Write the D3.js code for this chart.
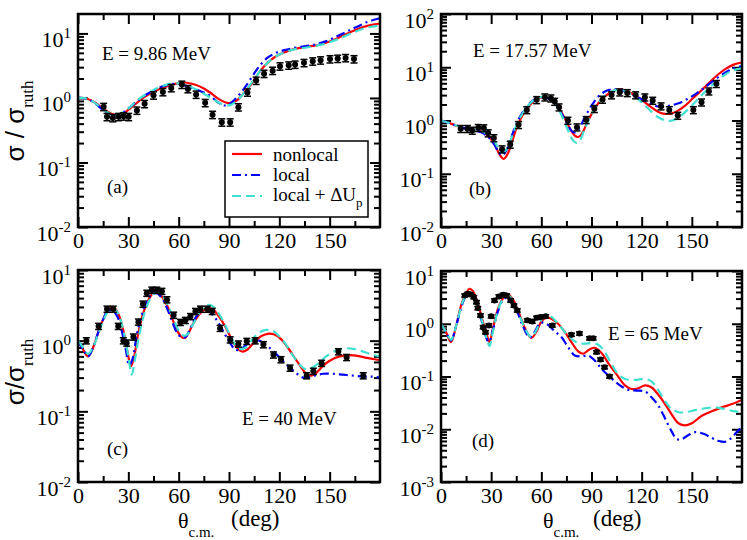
<!DOCTYPE html>
<html>
<head>
<meta charset="utf-8">
<script src="https://cdn.jsdelivr.net/npm/d3@7"></script>
<style>
  body { margin: 0; background: #fff; }
</style>
</head>
<body>
<div id="chart"></div>
<script>
var xTicks = [0, 30, 60, 90, 120, 150];
var xMinor = [15, 45, 75, 105, 135, 165];
var energies = ["E = 9.86 MeV", "E = 17.57 MeV", "E = 40 MeV", "E = 65 MeV"];
var panelTags = ["(a)", "(b)", "(c)", "(d)"];
var legendNames = ["nonlocal", "local", "local + \u0394U"];

// (a) E = 9.86 MeV   [theta, sigma/sigma_ruth]
var aNonlocal = [[0,1.0],[5,0.98],[10,0.85],[15,0.68],[20,0.57],[24,0.55],[28,0.6],[32,0.72],[36,0.88],[40,1.05],[45,1.25],[50,1.42],[55,1.58],[60,1.7],[65,1.72],[70,1.6],[75,1.4],[80,1.15],[84,0.96],[88,0.85],[91,0.84],[95,0.93],[99,1.2],[103,1.6],[107,2.3],[111,3.1],[115,3.9],[120,4.7],[125,5.3],[130,5.8],[135,6.1],[140,6.4],[145,6.8],[150,7.5],[155,8.5],[160,9.8],[165,11.2],[170,12.6],[175,13.6],[180,14.2]];
var aLocal = [[0,1.0],[5,0.98],[10,0.83],[15,0.65],[20,0.55],[23,0.54],[27,0.6],[31,0.72],[35,0.88],[40,1.1],[45,1.3],[50,1.5],[55,1.62],[60,1.65],[64,1.55],[68,1.42],[72,1.3],[76,1.18],[80,1.02],[83,0.87],[86,0.78],[89,0.77],[93,0.92],[97,1.2],[101,1.65],[105,2.4],[109,3.3],[113,4.2],[118,5.0],[123,5.5],[128,5.9],[133,6.2],[138,6.5],[143,6.9],[148,7.6],[153,8.7],[158,10.0],[163,11.6],[168,13.3],[173,15.2],[177,16.4],[180,17.2]];
var aLocalDU = [[0,1.0],[5,0.98],[10,0.84],[15,0.66],[20,0.56],[23,0.55],[27,0.6],[31,0.72],[35,0.9],[40,1.12],[45,1.33],[50,1.52],[55,1.65],[60,1.68],[64,1.6],[68,1.45],[72,1.28],[76,1.12],[80,0.98],[84,0.84],[88,0.77],[91,0.78],[95,0.92],[99,1.2],[103,1.65],[107,2.3],[111,3.1],[115,3.9],[120,4.7],[125,5.3],[130,5.75],[135,6.0],[140,6.3],[145,6.7],[150,7.3],[155,8.2],[160,9.3],[165,10.6],[170,11.8],[175,12.7],[180,13.2]];
var aExp = [[15.3,0.73,0.13],[17.3,0.51,0.13],[20.8,0.49,0.13],[24.2,0.51,0.13],[27.2,0.52,0.13],[30.2,0.51,0.13],[35.1,0.64,0.13],[39.7,0.81,0.13],[45,1.1,0.13],[50.6,1.24,0.13],[55.6,1.43,0.13],[61.9,1.61,0.13],[65.5,1.38,0.13],[70.4,1.13,0.13],[75.8,0.84,0.13],[80.2,0.55,0.13],[85.7,0.42,0.13],[90.7,0.42,0.13],[95.6,0.72,0.13],[101,1.22,0.13],[106.2,1.86,0.13],[110.9,2.38,0.13],[116,2.65,0.13],[120.4,3.1,0.13],[125.6,3.2,0.13],[129.4,3.3,0.13],[134.7,3.5,0.13],[139.9,3.7,0.13],[144.6,3.84,0.13],[150.2,4.0,0.13],[154.8,4.07,0.13],[159.5,4.17,0.13],[164.5,4.0,0.13]];

// (b) E = 17.57 MeV
var bNonlocal = [[0,1.0],[5,0.9],[10,0.78],[15,0.7],[20,0.66],[24,0.62],[28,0.52],[32,0.36],[35,0.23],[37.5,0.19],[40,0.24],[43,0.45],[46,0.85],[50,1.45],[54,2.1],[58,2.6],[62,2.75],[66,2.5],[70,1.8],[74,1.1],[77,0.72],[80,0.52],[82,0.49],[84,0.55],[87,0.85],[91,1.5],[95,2.3],[99,3.0],[103,3.6],[107,3.85],[111,3.6],[115,3.1],[120,2.45],[125,1.85],[130,1.45],[134,1.33],[138,1.36],[142,1.55],[146,1.9],[150,2.5],[155,3.5],[160,5.0],[165,7.0],[170,9.2],[175,11.2],[180,12.3]];
var bLocal = [[0,1.0],[5,0.9],[10,0.78],[15,0.7],[20,0.65],[24,0.6],[28,0.5],[32,0.35],[34.5,0.25],[36.5,0.22],[39,0.27],[42,0.48],[45,0.85],[49,1.45],[53,2.1],[57,2.6],[61,2.75],[65,2.5],[69,1.9],[73,1.2],[76,0.8],[78.5,0.62],[80.5,0.6],[83,0.75],[86,1.15],[90,1.9],[94,2.8],[98,3.5],[102,3.85],[106,3.8],[110,3.5],[115,3.0],[120,2.5],[125,2.1],[129,1.85],[133,1.8],[137,1.9],[142,2.1],[147,2.5],[152,3.1],[157,4.0],[162,5.3],[167,6.9],[172,8.6],[176,9.8],[180,10.5]];
var bLocalDU = [[0,1.0],[5,0.9],[10,0.79],[15,0.71],[20,0.67],[24,0.63],[28,0.55],[32,0.4],[35,0.28],[37,0.25],[39.5,0.3],[43,0.55],[46,0.95],[50,1.55],[54,2.2],[58,2.65],[62,2.8],[66,2.5],[70,1.7],[73.5,1.0],[76.5,0.6],[79,0.42],[81,0.38],[83,0.42],[86,0.7],[90,1.3],[94,2.1],[98,2.9],[102,3.5],[106,3.8],[110,3.6],[114,3.1],[118,2.5],[122,1.9],[126,1.45],[130,1.15],[134,1.0],[137,0.98],[141,1.08],[145,1.35],[150,1.9],[155,2.8],[160,4.0],[165,5.5],[170,7.3],[175,8.8],[180,9.5]];
var bExp = [[11.8,0.7,0.15],[15.8,0.7,0.15],[18.7,0.65,0.15],[22.3,0.73,0.15],[25.6,0.72,0.15],[28.2,0.58,0.15],[31.6,0.47,0.15],[36.5,0.29,0.15],[41.4,0.355,0.15],[46.4,0.83,0.15],[51.3,1.58,0.15],[57.2,2.44,0.15],[62.1,2.74,0.15],[65.7,2.62,0.15],[68,2.27,0.15],[70.6,1.78,0.15],[75.9,1.0,0.15],[81.3,0.75,0.15],[86.8,1.03,0.15],[91.7,1.66,0.15],[96.6,2.48,0.15],[102,3.0,0.15],[106.9,3.4,0.15],[111.4,3.3,0.15],[116.4,3.0,0.15],[121.9,2.74,0.15],[126.6,2.37,0.15],[131.6,1.86,0.15],[136.5,1.58,0.15],[141.6,1.24,0.15],[150.9,1.58,0.15],[155.8,2.2,0.15],[160.2,3.55,0.15],[164.7,4.9,0.15]];

// (c) E = 40 MeV
var cNonlocal = [[0,1.0],[3,0.75],[6,0.6],[9,0.8],[12,1.3],[15,2.0],[18,2.7],[21,3.0],[24,2.4],[27,1.4],[29.5,0.7],[31.5,0.43],[33.5,0.6],[36,1.3],[39,2.5],[42,3.8],[45,4.8],[47,4.9],[50,4.2],[53,3.2],[56,2.1],[59,1.4],[62,1.12],[64,1.1],[66,1.3],[69,1.8],[72,2.3],[75,2.7],[78,2.9],[81,2.7],[84,2.2],[88,1.55],[92,1.0],[95,0.78],[98,0.7],[101,0.75],[105,0.95],[109,1.15],[113,1.25],[117,1.22],[121,1.05],[125,0.8],[129,0.58],[133,0.42],[136,0.34],[139,0.32],[142,0.35],[146,0.44],[150,0.52],[155,0.59],[160,0.62],[164,0.62],[168,0.6],[172,0.57],[176,0.55],[180,0.53]];
var cLocal = [[0,1.0],[3,0.75],[6,0.6],[9,0.8],[12,1.3],[15,2.0],[17.5,2.6],[20,2.7],[23,2.3],[26,1.4],[28.5,0.75],[30.5,0.45],[32.5,0.55],[35,1.2],[38,2.3],[41,3.6],[44,4.5],[47,4.7],[50,4.0],[53,2.9],[56,1.9],[59,1.3],[62,1.1],[64,1.12],[67,1.5],[70,2.1],[73,2.6],[76,2.75],[79,2.5],[83,1.9],[87,1.3],[91,0.9],[94,0.74],[97,0.76],[101,0.9],[104,1.0],[107,1.02],[110,0.95],[114,0.8],[118,0.65],[122,0.52],[126,0.42],[130,0.35],[134,0.3],[137,0.3],[141,0.32],[146,0.34],[152,0.34],[158,0.33],[164,0.32],[170,0.31],[175,0.31],[180,0.3]];
var cLocalDU = [[0,1.0],[3,0.8],[6,0.65],[9,0.8],[12,1.25],[15,1.9],[18,2.6],[21,2.9],[24,2.4],[27,1.4],[30,0.6],[32,0.33],[34,0.55],[36.5,1.2],[39.5,2.4],[42.5,3.7],[45.5,4.7],[48,4.9],[51,4.1],[54,3.0],[57,2.0],[60,1.4],[63,1.18],[65,1.22],[68,1.6],[71,2.2],[74,2.8],[77,3.2],[80,3.1],[83,2.6],[87,1.8],[91,1.15],[94,0.85],[97,0.76],[100,0.8],[104,1.05],[108,1.3],[112,1.42],[116,1.38],[120,1.15],[124,0.88],[128,0.62],[132,0.46],[135,0.4],[138,0.4],[142,0.45],[146,0.55],[150,0.65],[155,0.74],[160,0.78],[165,0.76],[170,0.7],[175,0.64],[180,0.6]];
var cExp = [[5,1.0,0.1],[12.3,1.6,0.1],[17.3,2.8,0.1],[21,2.8,0.1],[24,1.6,0.1],[27,1.0,0.1],[29,0.93,0.1],[33,1.13,0.1],[36,1.84,0.1],[38.7,3.3,0.1],[41,4.7,0.1],[44,5.2,0.1],[47,5.2,0.1],[50,5.0,0.1],[53,3.8,0.1],[57,2.3,0.1],[61,1.82,0.1],[64,1.94,0.1],[67,2.2,0.1],[70,2.6,0.1],[73,2.8,0.1],[77,2.8,0.1],[80,2.6,0.1],[84.7,1.5,0.1],[90.7,1.03,0.1],[95.6,0.9,0.1],[100.6,0.98,0.1],[105.6,1.0,0.1],[110.5,0.88,0.1],[116.5,0.63,0.1],[121,0.54,0.1],[126.4,0.41,0.1],[136.3,0.32,0.1],[140.3,0.37,0.1],[145.2,0.48,0.1],[155.2,0.7,0.1],[160.1,0.58,0.1],[170,0.32,0.1]];

// (d) E = 65 MeV
var dNonlocal = [[0,1.0],[3,0.7],[6,0.45],[9,0.9],[12,2.2],[15,3.8],[17,4.6],[19,4.2],[22,2.4],[25,1.1],[27.5,0.6],[29,0.45],[31,0.8],[34,1.9],[37,3.0],[40,3.6],[43,2.9],[46,1.8],[50,0.85],[54,0.54],[57,0.7],[60,1.1],[63,1.3],[66,1.25],[70,1.0],[74,0.7],[78,0.45],[82,0.3],[85,0.27],[89,0.33],[92,0.35],[96,0.28],[100,0.18],[105,0.11],[110,0.068],[114,0.058],[118,0.06],[122,0.068],[126,0.062],[130,0.045],[134,0.03],[138,0.019],[142,0.013],[146,0.0118],[150,0.013],[156,0.018],[162,0.022],[168,0.026],[174,0.03],[180,0.036]];
var dLocal = [[0,1.0],[3,0.7],[6,0.48],[9,0.9],[12,2.0],[15,3.4],[17,3.7],[19,3.3],[22,2.0],[25,0.95],[27.5,0.5],[28.7,0.45],[31,0.75],[34,1.7],[37,2.8],[40,3.2],[42,2.9],[45,1.9],[49,0.9],[53,0.55],[56,0.7],[59,1.02],[61,1.05],[64,0.95],[68,0.72],[72,0.56],[76,0.36],[80,0.25],[84,0.24],[88,0.25],[92,0.2],[96,0.14],[102,0.092],[107,0.068],[112,0.056],[117,0.054],[122,0.052],[126,0.04],[130,0.028],[134,0.016],[138,0.009],[141,0.0065],[144,0.0065],[148,0.0078],[152,0.0088],[157,0.0082],[162,0.0068],[166,0.006],[170,0.0058],[174,0.007],[177,0.009],[180,0.011]];
var dLocalDU = [[0,1.0],[3,0.7],[6,0.5],[9,0.9],[12,2.1],[15,3.6],[17,4.0],[19,3.6],[22,2.2],[25,1.0],[27.5,0.5],[29,0.38],[31,0.7],[34,1.8],[37,2.9],[40,3.4],[43,2.8],[46,1.7],[50,0.85],[54,0.55],[57,0.75],[60,1.2],[63,1.48],[66,1.35],[70,1.0],[74,0.7],[78,0.52],[82,0.43],[86,0.42],[90,0.43],[94,0.4],[98,0.29],[102,0.17],[106,0.11],[110,0.09],[116,0.086],[122,0.09],[126,0.08],[130,0.055],[134,0.034],[138,0.024],[142,0.021],[146,0.021],[152,0.023],[158,0.025],[164,0.026],[170,0.024],[175,0.022],[180,0.021]];
var dExp = [[14.2,3.44,0.07],[16,3.7,0.07],[17.6,3.6,0.07],[19.6,3.2,0.07],[21.2,2.57,0.07],[22,1.98,0.07],[23.6,1.44,0.07],[25.2,0.86,0.07],[26.6,0.69,0.07],[28.6,0.93,0.07],[30,1.38,0.07],[32,2.77,0.07],[34.6,3.3,0.07],[37.2,3.54,0.07],[39.2,3.44,0.07],[41.6,2.77,0.07],[43.6,2.22,0.07],[45.6,1.79,0.07],[51.6,1.16,0.07],[54.6,1.1,0.07],[57.2,1.3,0.07],[59.6,1.34,0.07],[62.6,1.38,0.07],[66.6,0.93,0.07],[78,0.62,0.07],[82.8,0.655,0.07],[88.8,0.53,0.07],[91,0.53,0.07],[93,0.29,0.07],[95.4,0.21,0.07],[97.8,0.15,0.07],[100.8,0.1,0.07]];

var serif = "'Liberation Serif', 'Times New Roman', serif";
var sans = "'Liberation Sans', Arial, sans-serif";
var colors = ["#ff0000", "#0000ff", "#40e0d0"];
var dashes = [null, "9,4,2,4", "9,5"];

var layout = [
  {left: 78,  right: 380, top: 14,  bottom: 227, ymin: 0.01,  ymax: 20,  eX: 102, eY: 60,  tX: 107, tY: 193},
  {left: 441, right: 742, top: 14,  bottom: 227, ymin: 0.01,  ymax: 100, eX: 473, eY: 57,  tX: 469, tY: 195},
  {left: 78,  right: 380, top: 270, bottom: 482, ymin: 0.01,  ymax: 10,  eX: 242, eY: 425, tX: 107, tY: 455},
  {left: 441, right: 742, top: 271, bottom: 482, ymin: 0.001, ymax: 10,  eX: 608, eY: 340, tX: 472, tY: 447}
];
var curves = [
  [aNonlocal, aLocal, aLocalDU],
  [bNonlocal, bLocal, bLocalDU],
  [cNonlocal, cLocal, cLocalDU],
  [dNonlocal, dLocal, dLocalDU]
];
var exps = [aExp, bExp, cExp, dExp];

var svg = d3.select("#chart").append("svg")
    .attr("width", 747)
    .attr("height", 540);

function decades(lo, hi) {
  var t = [];
  for (var k = Math.round(Math.log10(lo)); Math.pow(10, k) <= hi * 1.0001; k++) t.push(+Math.pow(10, k).toPrecision(3));
  return t;
}

layout.forEach(function(L, i) {
  var x = d3.scaleLinear().domain([0, 180]).range([L.left, L.right]);
  var y = d3.scaleLog().domain([L.ymin, L.ymax]).range([L.bottom, L.top]);
  var g = svg.append("g");

  var major = decades(L.ymin, L.ymax);
  var minor = [];
  major.forEach(function(m) {
    for (var k = 2; k <= 9; k++) if (m * k < L.ymax * 0.999) minor.push(m * k);
  });

  function tickStyle(sel, w) {
    sel.select(".domain").remove();
    sel.selectAll("line").attr("stroke", "#000").attr("stroke-width", w);
  }

  // x axes (bottom labelled, top mirrored)
  var gx = g.append("g").attr("transform", "translate(0," + L.bottom + ")")
      .call(d3.axisBottom(x).tickValues(xTicks).tickSizeInner(-10).tickSizeOuter(0).tickPadding(5))
      .call(tickStyle, 2);
  gx.selectAll("text").attr("font-family", serif).attr("font-size", 22).attr("fill", "#000");
  g.append("g").attr("transform", "translate(0," + L.bottom + ")")
      .call(d3.axisBottom(x).tickValues(xMinor).tickSizeInner(-6).tickSizeOuter(0).tickFormat(""))
      .call(tickStyle, 2);
  g.append("g").attr("transform", "translate(0," + L.top + ")")
      .call(d3.axisTop(x).tickValues(xTicks).tickSizeInner(-10).tickSizeOuter(0).tickFormat(""))
      .call(tickStyle, 2);
  g.append("g").attr("transform", "translate(0," + L.top + ")")
      .call(d3.axisTop(x).tickValues(xMinor).tickSizeInner(-6).tickSizeOuter(0).tickFormat(""))
      .call(tickStyle, 2);

  // y axes
  var gy = g.append("g").attr("transform", "translate(" + L.left + ",0)")
      .call(d3.axisLeft(y).tickValues(major).tickSizeInner(-10).tickSizeOuter(0).tickPadding(7))
      .call(tickStyle, 2);
  gy.selectAll("text").each(function(d) {
    var t = d3.select(this).text(null)
        .attr("font-family", serif).attr("font-size", 22).attr("fill", "#000")
        .attr("dy", 13);
    t.append("tspan").text("10");
    t.append("tspan").attr("font-size", 15).attr("dy", -9).text(Math.round(Math.log10(d)));
  });
  g.append("g").attr("transform", "translate(" + L.left + ",0)")
      .call(d3.axisLeft(y).tickValues(minor).tickSizeInner(-6).tickSizeOuter(0).tickFormat(""))
      .call(tickStyle, 2);
  g.append("g").attr("transform", "translate(" + L.right + ",0)")
      .call(d3.axisRight(y).tickValues(major).tickSizeInner(-10).tickSizeOuter(0).tickFormat(""))
      .call(tickStyle, 2);
  g.append("g").attr("transform", "translate(" + L.right + ",0)")
      .call(d3.axisRight(y).tickValues(minor).tickSizeInner(-6).tickSizeOuter(0).tickFormat(""))
      .call(tickStyle, 2);

  // curves
  var clipId = "clip" + i;
  svg.append("clipPath").attr("id", clipId).append("rect")
      .attr("x", L.left).attr("y", L.top)
      .attr("width", L.right - L.left).attr("height", L.bottom - L.top);

  var line = d3.line()
      .x(function(d) { return x(d[0]); })
      .y(function(d) { return y(d[1]); })
      .curve(d3.curveCatmullRom.alpha(0.5));

  var gc = g.append("g").attr("clip-path", "url(#" + clipId + ")");
  curves[i].forEach(function(c, j) {
    gc.append("path")
        .attr("d", line(c))
        .attr("fill", "none")
        .attr("stroke", colors[j])
        .attr("stroke-width", 2.2)
        .attr("stroke-dasharray", dashes[j]);
  });

  // experimental points with error bars
  var pts = gc.selectAll(".pt").data(exps[i]).enter().append("g").attr("class", "pt");
  pts.append("line")
      .attr("x1", function(d) { return x(d[0]); })
      .attr("x2", function(d) { return x(d[0]); })
      .attr("y1", function(d) { return y(d[1] * (1 - d[2])); })
      .attr("y2", function(d) { return y(d[1] * (1 + d[2])); })
      .attr("stroke", "#000").attr("stroke-width", 1.5);
  [-1, 1].forEach(function(s) {
    pts.append("line")
        .attr("x1", function(d) { return x(d[0]) - 3.5; })
        .attr("x2", function(d) { return x(d[0]) + 3.5; })
        .attr("y1", function(d) { return y(d[1] * (1 + s * d[2])); })
        .attr("y2", function(d) { return y(d[1] * (1 + s * d[2])); })
        .attr("stroke", "#000").attr("stroke-width", 1.5);
  });
  pts.append("circle")
      .attr("cx", function(d) { return x(d[0]); })
      .attr("cy", function(d) { return y(d[1]); })
      .attr("r", 3)
      .attr("fill", "#000");

  // frame
  g.append("rect")
      .attr("x", L.left).attr("y", L.top)
      .attr("width", L.right - L.left).attr("height", L.bottom - L.top)
      .attr("fill", "none").attr("stroke", "#000").attr("stroke-width", 2.5);

  // annotations
  g.append("text").attr("x", L.eX).attr("y", L.eY)
      .attr("font-family", serif).attr("font-size", 19).text(energies[i]);
  g.append("text").attr("x", L.tX).attr("y", L.tY)
      .attr("font-family", serif).attr("font-size", 19).text(panelTags[i]);
});

// y-axis titles
function yTitle(cx, cy, main) {
  var t = svg.append("text")
      .attr("transform", "translate(" + cx + "," + cy + ") rotate(-90)")
      .attr("text-anchor", "middle");
  t.append("tspan").attr("font-family", sans).attr("font-size", 26).text(main);
  t.append("tspan").attr("font-family", serif).attr("font-size", 17).attr("dy", 9).text("ruth");
}
yTitle(24, 121, "\u03c3 / \u03c3");
yTitle(24, 372, "\u03c3/\u03c3");

// x-axis titles
function xTitle(x0, x1) {
  var t = svg.append("text").attr("font-family", serif).attr("x", x0).attr("y", 528);
  t.append("tspan").attr("font-size", 22).text("\u03b8");
  t.append("tspan").attr("font-size", 15).attr("dy", 9).text("c.m.");
  svg.append("text").attr("font-family", serif).attr("x", x1).attr("y", 526)
      .attr("font-size", 23).text("(deg)");
}
xTitle(178, 231);
xTitle(543, 593);

// legend in panel (a)
var lg = svg.append("g");
lg.append("rect").attr("x", 225).attr("y", 141).attr("width", 143).attr("height", 76)
    .attr("fill", "#fff").attr("stroke", "#000").attr("stroke-width", 1.5);
var rowLine = [154, 175, 196];
var rowText = [161, 181, 201];
legendNames.forEach(function(n, j) {
  lg.append("line").attr("x1", 232).attr("x2", 262).attr("y1", rowLine[j]).attr("y2", rowLine[j])
      .attr("stroke", colors[j]).attr("stroke-width", 2.2).attr("stroke-dasharray", dashes[j]);
  var t = lg.append("text").attr("x", 273).attr("y", rowText[j])
      .attr("font-family", serif).attr("font-size", 19).text(n);
  if (j === 2) t.append("tspan").attr("font-size", 13).attr("dy", 6).text("p");
});
</script>
</body>
</html>
